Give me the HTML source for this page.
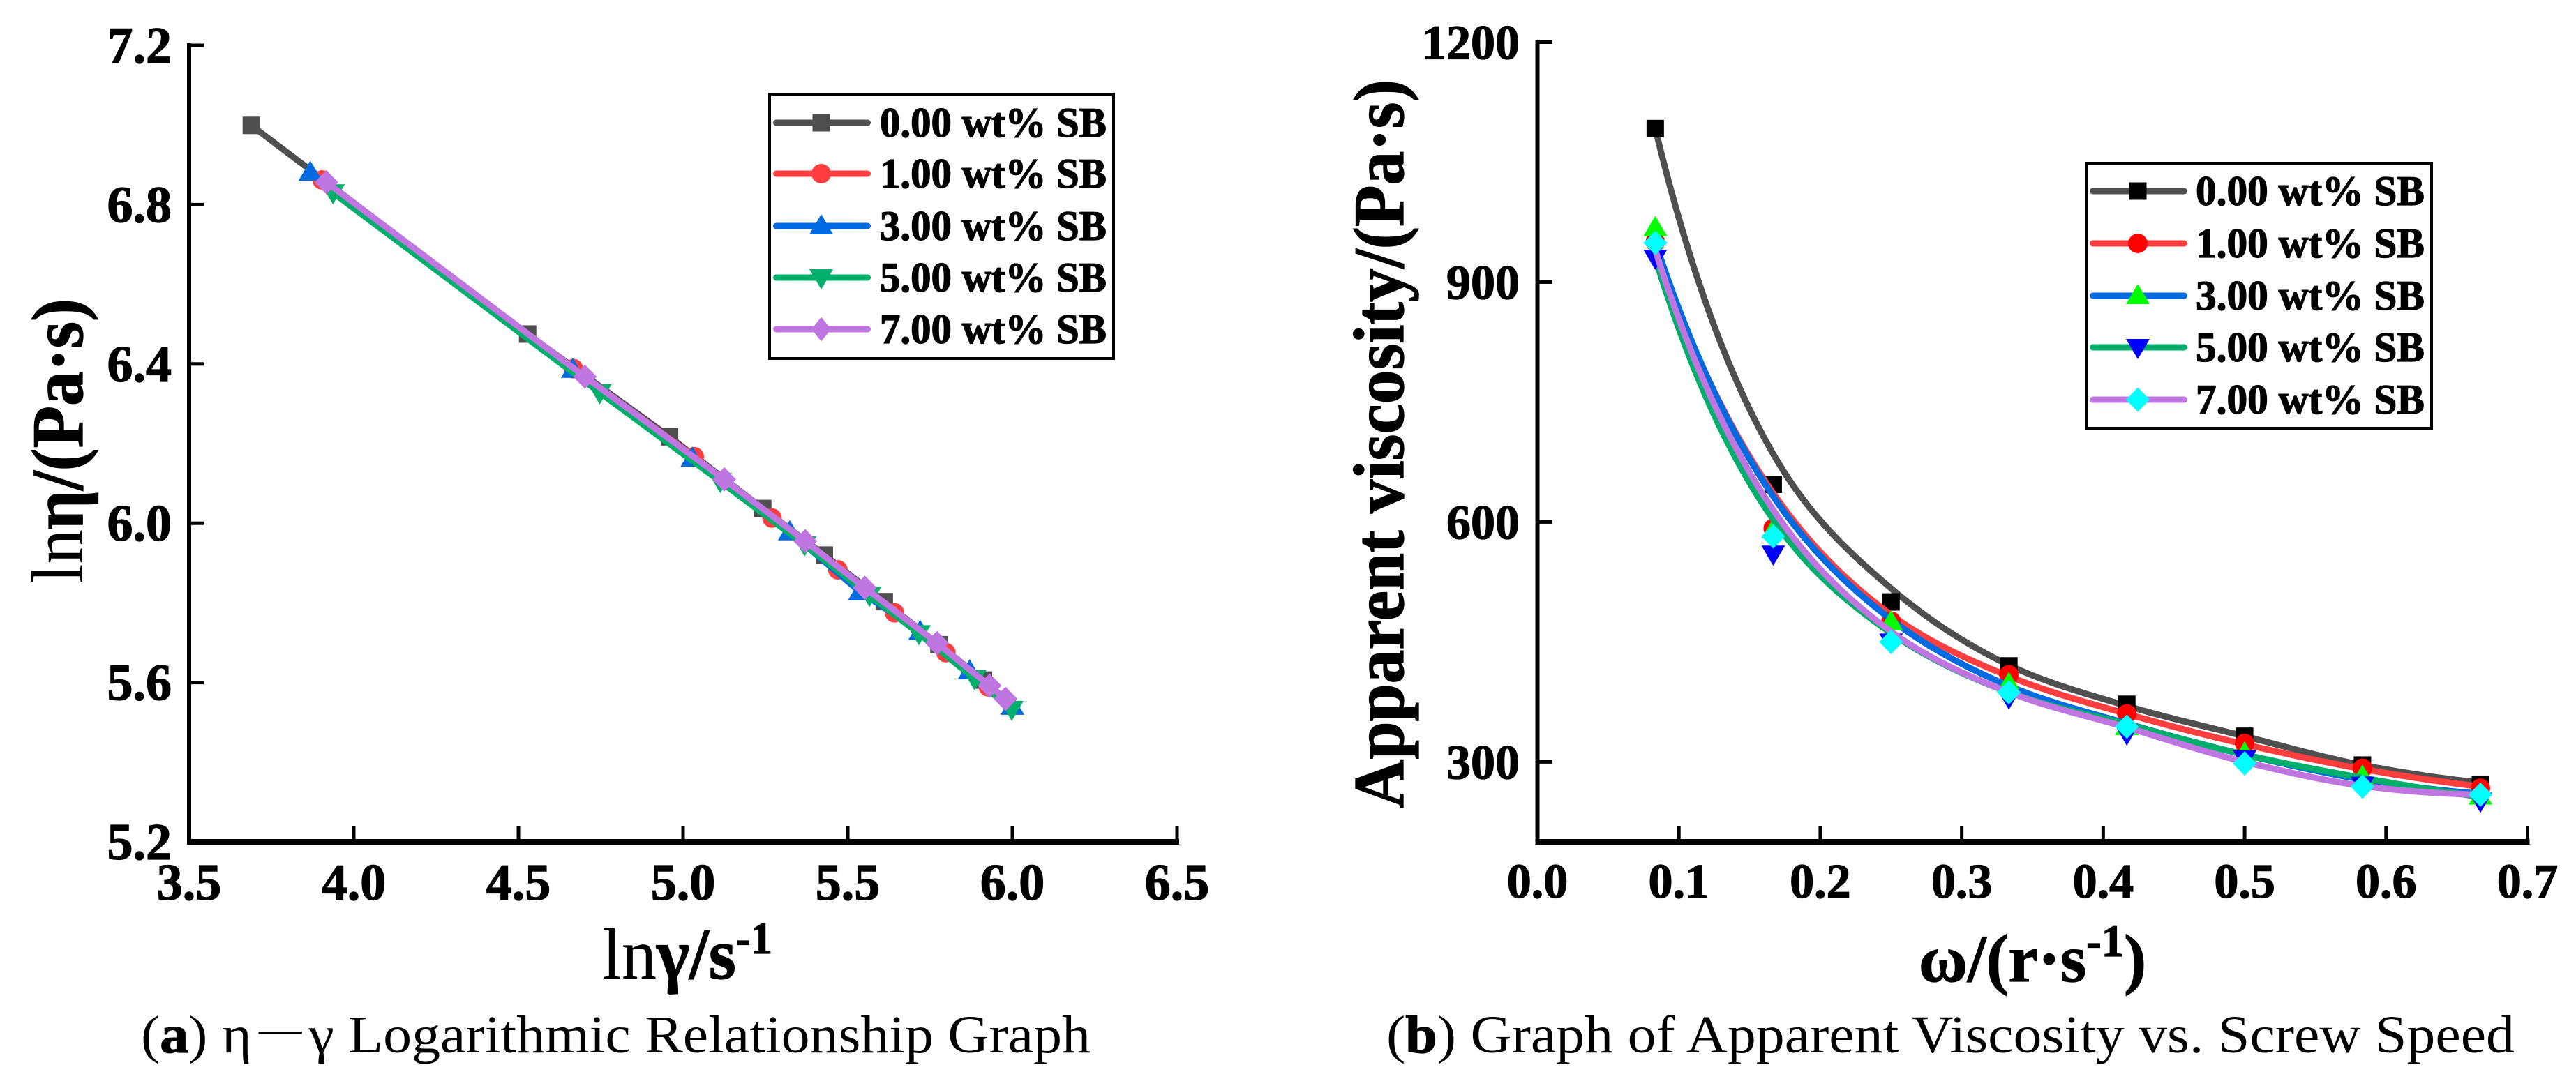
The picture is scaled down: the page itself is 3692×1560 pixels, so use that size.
<!DOCTYPE html>
<html lang="en">
<head>
<meta charset="utf-8">
<title>Viscosity charts</title>
<style>
html,body{margin:0;padding:0;background:#fff;width:3692px;height:1560px;overflow:hidden}
svg{display:block}
text{font-family:"Liberation Serif","Noto Serif CJK SC",serif;fill:#000}
.b,[font-weight="bold"]{font-weight:bold;stroke:#000;stroke-width:1.3px}
</style>
</head>
<body>
<svg id="chart" xmlns="http://www.w3.org/2000/svg" width="3692" height="1560" viewBox="0 0 3692 1560">
  <rect x="0" y="0" width="3692" height="1560" fill="#fff"/>
  <g id="panel-a"></g>
  <g id="panel-b"></g>

  <text transform="translate(118,836) rotate(-90)" font-size="105" textLength="408" lengthAdjust="spacingAndGlyphs">ln<tspan class="b">η/(Pa·s)</tspan></text>
  <text x="863" y="1403" font-size="104" textLength="244" lengthAdjust="spacingAndGlyphs">ln<tspan class="b">γ/s</tspan><tspan class="b" font-size="65" dy="-36">-1</tspan></text>
  <text x="202" y="1509" font-size="76" textLength="1361" lengthAdjust="spacingAndGlyphs">(<tspan class="b">a</tspan>) η－γ Logarithmic Relationship Graph</text>

  <text class="b" transform="translate(2011,1159) rotate(-90)" font-size="103" textLength="1045" lengthAdjust="spacingAndGlyphs">Apparent viscosity/(Pa·s)</text>
  <text class="b" x="2750" y="1407" font-size="96" textLength="326" lengthAdjust="spacingAndGlyphs">ω/(r·s<tspan font-size="65" dy="-36">-1</tspan><tspan dy="36">)</tspan></text>
  <text x="1987" y="1509" font-size="76" textLength="1617" lengthAdjust="spacingAndGlyphs">(<tspan class="b">b</tspan>) Graph of Apparent Viscosity vs. Screw Speed</text>
</svg>
<script>
// ---------- shared categories ----------
const seriesNames = ["0.00 wt% SB", "1.00 wt% SB", "3.00 wt% SB", "5.00 wt% SB", "7.00 wt% SB"];

// ---------- panel (a) data ----------
const aTicksX = ["3.5", "4.0", "4.5", "5.0", "5.5", "6.0", "6.5"];
const aTicksY = ["5.2", "5.6", "6.0", "6.4", "6.8", "7.2"];
const aX0 = [3.689, 4.528, 4.959, 5.242, 5.429, 5.611, 5.777, 5.912];
const aY0 = [6.999, 6.475, 6.217, 6.037, 5.920, 5.803, 5.695, 5.606];
const aX1 = [3.904, 4.667, 5.034, 5.270, 5.470, 5.642, 5.798, 5.927];
const aY1 = [6.862, 6.388, 6.167, 6.013, 5.883, 5.775, 5.675, 5.589];
const aX3 = [3.868, 4.665, 5.028, 5.324, 5.537, 5.720, 5.870, 6.000];
const aY3 = [6.881, 6.386, 6.163, 5.978, 5.828, 5.728, 5.629, 5.540];
const aX5 = [3.937, 4.747, 5.113, 5.369, 5.566, 5.716, 5.885, 5.998];
const aY5 = [6.830, 6.328, 6.105, 5.946, 5.819, 5.723, 5.610, 5.533];
const aX7 = [3.917, 4.702, 5.125, 5.371, 5.552, 5.771, 5.931, 5.979];
const aY7 = [6.856, 6.368, 6.110, 5.955, 5.838, 5.699, 5.592, 5.559];

// ---------- panel (b) data ----------
const bTicksX = ["0.0", "0.1", "0.2", "0.3", "0.4", "0.5", "0.6", "0.7"];
const bTicksY = ["300", "600", "900", "1200"];
const bSpeed = [0.0833, 0.1667, 0.25, 0.3333, 0.4167, 0.5, 0.5833, 0.6667];
const bPts0 = [1092, 647, 500, 420, 372, 332, 296, 272];
const bPts1 = [950, 592, 476, 409, 360, 323, 292, 267];
const bPts3 = [968, 590, 475, 398, 344, 311, 282, 257];
const bPts5 = [930, 560, 450, 380, 335, 304, 271, 251];
const bPts7 = [949, 582, 450, 387, 344, 298, 269, 259];
const bFit0 = [1092, 685, 517, 421, 370, 332, 296, 274];
const bFit1 = [945, 636, 484, 407, 360, 322, 291, 269];
const bFit3 = [950, 632, 478, 395, 348, 309, 278, 260];
const bFit5 = [930, 603, 461, 387, 347, 309, 280, 256];
const bFit7 = [940, 615, 463, 387, 343, 300, 270, 259];

// ---------- axis functions ----------
function aXs(v) { return 271 + (v - 3.5) * (1687 - 271) / 3; }
function aYs(v) { return 1207 - (v - 5.2) * (1207 - 65) / 2; }
function bXs(v) { return 2203.5 + v * (3622.5 - 2203.5) / 0.7; }
function bYs(v) { return 1207 - (v - 200) * (1207 - 60.5) / 1000; }

const SVGNS = "http://www.w3.org/2000/svg";
function make(parent, tag, attrs, txt) {
  const el = document.createElementNS(SVGNS, tag);
  for (const k in attrs) el.setAttribute(k, attrs[k]);
  if (txt !== undefined) el.textContent = txt;
  parent.appendChild(el);
  return el;
}
function markerShape(parent, kind, cx, cy, color, dw) {
  let el;
  if (kind === "square") {
    el = make(parent, "rect", { x: cx - 12.5, y: cy - 12.5, width: 25, height: 25, fill: color });
  } else if (kind === "circle") {
    el = make(parent, "ellipse", { cx: cx, cy: cy, rx: 14, ry: 14, fill: color });
  } else if (kind === "up") {
    el = make(parent, "polygon", { points: [cx, cy - 17, cx + 17, cy + 12, cx - 17, cy + 12].join(","), fill: color });
  } else if (kind === "down") {
    el = make(parent, "polygon", { points: [cx, cy + 17, cx + 17, cy - 12, cx - 17, cy - 12].join(","), fill: color });
  } else {
    el = make(parent, "polygon", { points: [cx, cy - 17.5, cx + dw, cy, cx, cy + 17.5, cx - dw, cy].join(","), fill: color });
  }
  return el;
}
function logCurve(xs, vs, xf, yf) {
  // Catmull-Rom through the fitted values in log space, with quadratic end extrapolation
  const l = vs.map(function (v) { return Math.log(v); });
  const n = l.length;
  const before = 3 * l[0] - 3 * l[1] + l[2];
  const after = 3 * l[n - 1] - 3 * l[n - 2] + l[n - 3];
  const out = [];
  for (let i = 0; i < n - 1; i++) {
    const p0 = i === 0 ? before : l[i - 1];
    const p1 = l[i];
    const p2 = l[i + 1];
    const p3 = i === n - 2 ? after : l[i + 2];
    for (let s = 0; s < 24; s++) {
      const t = s / 24;
      const v = 0.5 * (2 * p1 + (p2 - p0) * t + (2 * p0 - 5 * p1 + 4 * p2 - p3) * t * t + (3 * p1 - p0 - 3 * p2 + p3) * t * t * t);
      out.push(xf(xs[i] + (xs[i + 1] - xs[i]) * t).toFixed(1) + "," + yf(Math.exp(v)).toFixed(1));
    }
  }
  out.push(xf(xs[n - 1]).toFixed(1) + "," + yf(vs[n - 1]).toFixed(1));
  return out.join(" ");
}
function drawFrame(g, xTicks, yTicks, xf, yf, xLabelY, yLabelX, fontSize, baseShift) {
  const x0 = xf(parseFloat(xTicks[0]));
  const x1 = xf(parseFloat(xTicks[xTicks.length - 1]));
  const top = yf(parseFloat(yTicks[yTicks.length - 1]));
  const leftAxis = make(g, "rect", { x: x0 - 3, y: top - 3, width: 6, height: 1211 - top + 3, fill: "#000" });
  
  
  const bottomAxis = make(g, "rect", { x: x0 - 3, y: 1203, width: x1 - x0 + 6, height: 8, fill: "#000" });
  
  
  xTicks.forEach(function (label, i) {
    const px = xf(parseFloat(label));
    if (i > 0) {
      const tick = make(g, "rect", { x: px - 2.5, y: 1184, width: 5, height: 20, fill: "#000" });
      
      
    }
    const lab = make(g, "text", { x: px, y: xLabelY, "font-size": fontSize, "font-weight": "bold", "text-anchor": "middle" }, label);
    
    
  });
  yTicks.forEach(function (label) {
    const py = yf(parseFloat(label));
    if (py < 1190) {
      const tick = make(g, "rect", { x: x0, y: py - 2.5, width: 21, height: 5, fill: "#000" });
      
      
    }
    const lab = make(g, "text", { x: yLabelX, y: py + baseShift, "font-size": fontSize, "font-weight": "bold", "text-anchor": "end" }, label);
    
    
  });
}
function drawLegend(g, box, lineX0, lineX1, markX, textX, textW, rows, lineColors, markColors, kinds, dw) {
  const frame = make(g, "rect", { x: box[0] + 2, y: box[1] + 2, width: box[2] - box[0] - 4, height: box[3] - box[1] - 4, fill: "#fff", stroke: "#000", "stroke-width": 4 });
  
  
  seriesNames.forEach(function (name, i) {
    const y = rows[i];
    const ln = make(g, "line", { x1: lineX0 + 4.5, x2: lineX1 - 4.5, y1: y, y2: y, stroke: lineColors[i], "stroke-width": 9, "stroke-linecap": "round" });
    
    
    const mk = markerShape(g, kinds[i], markX, y, markColors[i], dw);
    
    
    const t = make(g, "text", { x: textX, y: y + 20, "font-size": 60, "font-weight": "bold", textLength: textW, lengthAdjust: "spacingAndGlyphs" }, name);
    
    
  });
}

const lineColors = ["#4f4f4f", "#ff3f3f", "#006be0", "#00af6b", "#c076e0"];
const kinds = ["square", "circle", "up", "down", "diamond"];
const bMarkColors = ["#000000", "#ff0000", "#00ff00", "#0000ff", "#00ffff"];

// ---------- draw panel (a) ----------
const gA = document.getElementById("panel-a");
drawFrame(gA, aTicksX, aTicksY, aXs, aYs, 1290, 246, 74, 25);
[[aX0, aY0], [aX1, aY1], [aX3, aY3], [aX5, aY5], [aX7, aY7]].forEach(function (s, i) {
  const pts = s[0].map(function (x, j) { return aXs(x).toFixed(1) + "," + aYs(s[1][j]).toFixed(1); }).join(" ");
  const line = make(gA, "polyline", { points: pts, fill: "none", stroke: lineColors[i], "stroke-width": 9, "stroke-linejoin": "round" });
  
  
  s[0].forEach(function (x, j) {
    const m = markerShape(gA, kinds[i], aXs(x), aYs(s[1][j]), lineColors[i], 17);
    
    
  });
});
drawLegend(gA, [1101, 133, 1598, 516], 1108, 1248, 1177, 1261, 325, [176, 249, 324, 398, 472], lineColors, lineColors, kinds, 14);

// ---------- draw panel (b) ----------
const gB = document.getElementById("panel-b");
drawFrame(gB, bTicksX, bTicksY, bXs, bYs, 1287, 2178, 70, 24);
[[bFit0, bPts0], [bFit1, bPts1], [bFit3, bPts3], [bFit5, bPts5], [bFit7, bPts7]].forEach(function (s, i) {
  const line = make(gB, "polyline", { points: logCurve(bSpeed, s[0], bXs, bYs), fill: "none", stroke: lineColors[i], "stroke-width": 9, "stroke-linejoin": "round" });
  
  
  bSpeed.forEach(function (x, j) {
    const m = markerShape(gB, kinds[i], bXs(x), bYs(s[1][j]), bMarkColors[i], 17);
    
    
  });
});
drawLegend(gB, [2988, 232, 3487, 616], 2995, 3135, 3064, 3147, 328, [274, 349, 424, 498, 573], lineColors, bMarkColors, kinds, 17);
</script>
</body>
</html>
